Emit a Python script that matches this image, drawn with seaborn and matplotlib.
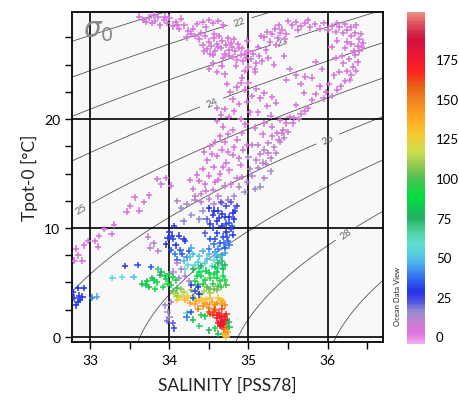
import numpy as np
import pandas as pd
import matplotlib
matplotlib.use("Agg")
import matplotlib.pyplot as plt
import matplotlib.colors as mcolors
import seaborn as sns

# ---------------- data (salinity, potential temperature, depth) ----------------
surface_pts = [
    (33.62,29.4,4),(33.68,29.1,3),(33.74,29.3,5),(33.78,28.8,3),(33.82,29.0,4),(33.86,29.4,6),(33.88,28.6,3),
    (33.93,29.1,4),(33.97,28.8,5),(34.0,29.3,3),(34.04,28.5,4),(34.08,28.9,6),(34.12,28.3,3),(34.15,29.2,4),
    (34.19,28.6,5),(34.24,28.1,4),(34.28,27.8,3),(34.22,27.5,6),
    (34.35,28.7,4),(34.42,28.9,3),(34.5,29.1,5),(34.55,28.8,4),(34.62,29.0,3),(34.68,28.6,4),(34.46,28.4,6),
    (34.38,27.3,4),(34.42,26.8,5),(34.45,27.6,3),(34.48,26.4,6),(34.5,27.1,4),(34.53,26.7,5),(34.56,27.4,3),
    (34.58,26.2,4),(34.6,26.9,5),(34.63,27.6,4),(34.65,26.5,6),(34.67,27.2,3),(34.7,26.0,5),(34.72,26.8,4),
    (34.74,27.4,5),(34.76,26.3,3),(34.78,27.0,4),(34.55,25.9,6),
    (34.8,25.7,1),(34.83,26.2,2),(34.86,25.4,1),(34.88,26.5,2),(34.9,25.9,1),(34.93,25.3,2),(34.95,26.0,1),(34.84,24.9,3),
    (34.5,24.6,5),(34.55,25.1,4),(34.6,24.3,6),(34.66,24.9,5),(34.7,24.1,4),
    (35.0,26.2,4),(35.03,25.5,5),(35.06,26.0,3),(35.1,25.1,5),(35.13,25.8,4),(35.17,25.3,6),
    (35.2,27.5,4),(35.24,28.0,5),(35.27,27.1,3),(35.3,27.8,4),(35.34,28.3,5),(35.37,27.4,3),(35.4,27.9,1),
    (35.43,28.2,2),(35.46,27.3,1),(35.48,27.8,2),(35.35,26.8,4),
    (35.55,28.6,4),(35.6,28.9,5),(35.66,28.5,3),(35.72,28.8,4),(35.78,28.4,5),(35.84,28.7,4),(35.9,28.3,3),(35.62,28.2,6),
    (35.25,25.6,5),(35.32,25.0,4),(35.45,25.8,6),(35.52,24.6,5),(35.48,23.6,4),(35.6,24.0,6),(35.66,23.2,5),
    (36.0,28.2,4),(36.05,28.5,5),(36.1,28.0,3),(36.15,28.4,4),(36.2,27.9,5),(36.25,28.2,4),(36.3,27.6,3),
    (36.35,27.9,5),(36.4,27.3,4),(36.38,26.7,5),(36.33,26.2,4),(36.3,26.9,6),(36.25,27.1,4),(36.22,26.5,5),
    (36.18,25.8,3),(36.27,25.5,4),(36.35,25.9,5),(36.4,26.2,4),(36.32,24.8,5),(36.25,24.4,4),(36.2,25.1,6),
    (36.15,24.3,5),(36.1,25.6,4),(36.05,26.6,5),(36.12,27.2,4),(36.08,24.0,5),(36.02,23.2,4),(36.17,23.0,6),
    (36.28,23.6,5),(35.98,22.5,4),(36.38,25.2,5),(36.43,26.6,4),
    (33.7,28.9,5),(33.8,29.5,4),(33.95,29.4,3),(34.1,28.6,5),(34.3,28.3,4),(34.33,27.6,6),(34.4,27.9,4),
    (34.44,26.2,5),(34.52,26.0,4),(34.57,27.8,3),(34.62,26.6,6),(34.68,25.6,5),(34.75,25.8,4),(34.79,26.6,2),
    (34.82,27.3,5),(34.87,26.9,3),(34.92,26.5,1),(34.97,25.6,2),(35.0,24.8,4),(35.08,24.6,5),(35.12,26.6,4),
    (35.16,27.6,5),(35.22,26.3,4),(35.38,28.6,5),(35.5,29.0,4),(35.75,29.1,5),(35.95,28.8,4),(36.12,28.8,5),
    (36.22,28.7,4),(36.3,28.4,5),(36.36,28.6,4),(36.42,27.8,5),(36.45,27.0,4),(36.36,24.4,5),(36.3,24.0,4),
    (36.22,23.5,5),(36.12,22.7,4),(36.05,22.1,5),(35.93,24.6,5),(35.85,25.2,4),(35.8,23.8,6),(35.72,23.9,4),
    (34.98,27.2,4),(34.95,24.4,3),(34.9,23.3,5),
]

thermocline_pts = [
    (34.73,23.2,4),(34.77,22.5,5),(34.8,21.8,3),(34.85,22.9,4),(34.88,21.4,5),(34.92,23.8,4),(34.96,22.7,5),
    (35.0,23.3,3),(35.04,22.1,4),(35.08,24.3,5),(34.98,21.6,6),
    (34.6,21.0,5),(34.65,20.4,4),(34.7,20.9,6),(34.75,20.2,5),(34.82,20.7,4),
    (35.1,22.8,5),(35.15,21.9,4),(35.2,22.4,6),(35.24,21.2,5),(35.3,22.0,4),(35.12,20.6,5),(35.28,20.3,6),(35.35,21.5,5),
    (35.9,23.0,4),(35.85,22.3,5),(35.8,21.7,4),(35.75,21.0,5),(35.7,22.4,6),(35.66,20.5,5),(35.6,21.3,4),
    (35.58,20.1,5),(35.95,21.9,6),
    (35.52,20.2,6),(35.48,19.6,5),(35.44,19.0,7),(35.4,19.9,6),(35.36,18.7,5),
    (35.3,18.4,8),(35.25,17.8,9),(35.2,17.2,10),(35.15,16.8,9),(35.1,16.2,11),(35.32,17.4,8),(35.4,17.9,7),
    (35.45,18.3,6),(35.35,16.9,9),(35.28,16.4,10),(35.05,17.6,8),(35.0,16.5,10),(35.22,15.9,11),(35.5,18.8,7),
    (35.12,15.5,12),(35.05,14.8,13),(34.98,14.2,14),(35.2,14.6,12),(35.15,13.8,14),(34.95,13.3,15),
    (35.08,13.6,14),(35.28,15.2,12),
    (34.68,19.3,3),(34.74,18.6,4),(34.8,19.0,2),(34.86,18.1,3),(34.92,18.7,4),(34.98,17.6,3),(34.7,17.9,5),(34.82,17.4,4),
    (34.44,17.0,3),(34.48,16.2,4),(34.52,17.5,2),(34.56,15.6,3),(34.6,16.6,4),(34.64,15.0,3),(34.66,17.2,2),
    (34.72,16.0,4),(34.76,15.3,3),(34.8,16.7,5),(34.85,14.6,4),(34.5,14.8,5),(34.58,14.2,4),(34.42,15.4,6),(34.9,15.8,5),
    (34.26,14.4,5),(34.3,13.6,6),(34.35,14.9,4),(34.4,13.1,7),(34.45,14.0,5),(34.5,12.7,8),(34.55,13.5,6),
    (34.62,12.9,9),(34.7,13.9,10),(34.74,12.6,12),
    (33.85,14.5,4),(33.9,14.0,5),(33.96,14.6,3),(34.02,13.9,4),
    (33.5,12.0,4),(33.56,12.8,5),(33.62,11.6,3),(33.68,12.4,4),(33.74,13.0,5),(33.46,11.5,4),
    (34.6,19.8,4),(34.64,18.4,3),(34.58,17.9,4),(34.54,16.8,3),(34.62,14.4,5),(34.68,15.6,4),(34.74,17.0,3),
    (34.78,14.0,6),(34.88,16.4,4),(34.93,17.2,5),(34.46,13.4,6),(34.38,14.3,5),(34.33,12.9,8),(34.4,12.4,10),
    (34.56,12.2,12),(34.66,12.3,14),(34.82,12.9,13),(34.88,13.8,12),(34.92,14.7,11),(35.02,15.4,11),
    (35.18,16.0,10),(35.25,16.9,9),(35.38,18.1,7),(35.42,18.7,6),(35.56,19.6,6),(35.64,20.0,5),(35.72,20.7,5),
    (35.18,18.6,8),(35.12,17.6,9),(35.08,19.2,6),(35.2,19.6,5),(35.3,19.3,6),(34.96,19.5,4),(35.02,20.6,5),
    (34.9,20.0,4),
]

shelf_pts = [
    (33.18,9.9,4),(33.27,9.45,5),(33.11,9.27,3),(33.3,10.3,4),(33.06,8.8,5),(33.1,8.3,4),(32.97,8.8,3),
    (32.92,8.4,5),(32.82,8.1,4),(32.85,7.5,5),(32.8,7.0,4),(32.9,7.0,6),
    (33.73,9.2,10),(33.8,8.6,11),(33.86,7.9,12),(33.76,8.2,9),
]

intermediate_pts = [
    (34.5,11.8,28),(34.55,11.2,30),(34.6,10.6,27),(34.62,11.6,32),(34.66,10.2,29),(34.7,11.0,31),(34.72,9.6,28),
    (34.75,10.5,33),(34.78,9.9,30),(34.8,11.4,27),(34.68,9.2,32),(34.64,8.6,35),(34.7,8.2,34),(34.6,9.5,31),
    (34.55,10.0,29),(34.82,10.8,28),(34.74,8.8,36),(34.58,7.8,38),(34.66,7.5,40),(34.52,9.0,33),(34.85,12.0,25),
    (34.78,12.4,22),
    (34.52,10.4,30),(34.57,11.6,28),(34.63,10.9,31),(34.67,11.3,30),(34.71,10.4,32),(34.76,11.0,29),(34.79,10.2,33),
    (34.73,9.2,34),(34.69,8.6,37),(34.62,8.1,40),(34.56,8.5,38),(34.6,7.3,42),(34.7,7.7,44),(34.76,8.4,38),
    (34.8,9.4,30),(34.83,11.6,26),(34.58,9.0,34),(34.5,8.1,40),(34.45,9.5,22),(34.47,10.8,20),(34.72,12.0,24),
    (34.65,12.4,22),
    (34.0,9.6,30),(34.04,9.0,32),(34.08,8.4,28),(34.02,8.0,34),(34.12,9.3,30),(34.16,7.6,33),(34.1,7.1,36),
    (34.2,8.8,31),(34.25,7.9,35),(33.96,8.5,29),(34.06,10.2,26),
    (34.03,9.3,31),(34.07,7.6,38),(34.14,8.0,35),(34.18,9.0,30),(34.22,7.3,40),(33.98,9.1,30),
    (34.1,12.5,12),(34.15,11.8,14),(34.22,12.2,13),(34.28,11.2,15),(34.32,12.6,12),(34.38,10.8,16),(34.18,10.6,17),
    (34.42,11.6,14),
    (34.18,7.0,50),(34.24,6.6,55),(34.3,7.6,48),(34.36,6.9,52),(34.42,7.9,46),(34.48,7.2,50),(34.54,6.5,56),
    (34.58,7.7,48),(34.28,8.2,45),(34.4,6.3,58),
    (34.2,6.2,58),(34.33,6.6,55),(34.45,6.8,54),(34.5,7.6,47),(34.38,7.4,50),(34.26,7.3,52),(34.56,7.1,56),
    (34.62,6.3,62),(34.66,6.6,64),
    (32.85,4.5,28),(32.92,4.5,29),(32.8,3.6,30),(32.84,3.2,31),(32.87,3.4,30),(32.82,2.9,29),(32.9,3.7,28),
    (32.78,4.1,27),(32.86,3.8,30),(33.02,3.6,40),(33.08,3.7,45),
    (33.28,5.4,55),(33.4,5.5,58),
    (33.44,6.5,30),(33.6,6.6,32),(33.77,6.4,34),(33.55,5.5,48),
]

deep_pts = [
    (33.66,4.9,80),(33.72,5.1,85),(33.78,5.4,82),(33.84,5.0,88),(33.88,5.7,78),(33.92,4.6,90),(33.96,5.3,86),
    (33.82,4.4,92),(33.9,6.0,75),(34.0,5.8,80),(33.74,4.6,84),(33.86,6.2,70),
    (33.7,4.8,82),(33.8,5.2,84),(33.94,5.6,82),(33.98,4.9,90),(34.04,5.5,88),(34.08,4.0,105),(34.1,3.8,108),
    (34.3,6.2,80),(34.35,5.6,85),(34.4,6.5,78),(34.45,5.2,90),(34.5,5.9,85),(34.55,4.9,95),(34.58,6.4,82),
    (34.48,4.6,100),(34.42,4.9,95),(34.36,4.8,92),(34.6,5.4,90),(34.62,6.8,75),(34.65,4.6,98),(34.64,7.4,68),
    (34.68,6.2,80),(34.7,5.2,92),
    (34.4,5.6,88),(34.46,6.1,84),(34.52,5.4,92),(34.56,5.8,88),(34.6,6.0,86),(34.64,5.1,94),(34.68,5.6,88),
    (34.7,6.6,78),(34.66,7.0,72),(34.72,4.8,96),(34.32,5.1,92),(34.38,6.0,86),(34.5,4.4,102),(34.56,4.4,104),
    (34.62,4.7,100),
    (34.02,4.8,95),(34.05,4.2,100),(34.08,5.2,92),(34.1,4.5,98),
    (34.06,3.9,115),(34.12,3.6,120),(34.18,4.1,112),(34.22,3.8,118),(34.28,4.3,110),(34.32,3.5,122),(34.15,4.4,108),
    (34.38,4.0,115),(34.44,4.2,112),(34.52,4.0,110),(34.6,4.3,105),
    (34.1,3.4,125),(34.16,3.7,122),(34.24,3.6,125),(34.3,3.8,120),(34.34,3.3,132),(34.4,3.6,125),(34.44,3.1,138),
    (34.48,3.0,142),(34.52,3.6,130),(34.56,2.6,150),(34.6,3.1,142),(34.64,3.4,132),(34.68,3.3,135),(34.7,2.9,148),
    (34.2,3.4,135),(34.26,3.1,140),(34.32,3.0,138),(34.38,3.3,132),(34.42,2.8,145),(34.46,3.5,130),(34.5,2.7,148),
    (34.54,3.2,140),(34.58,2.9,145),(34.62,3.6,128),(34.66,3.0,142),(34.36,2.6,150),
    (34.5,2.3,160),(34.55,2.0,165),(34.58,2.5,158),(34.6,1.7,170),(34.63,2.2,168),(34.65,1.4,175),(34.67,1.9,172),
    (34.69,1.1,178),(34.7,1.6,175),(34.62,1.3,180),(34.66,2.6,160),(34.72,2.1,165),(34.68,0.9,170),
    (34.52,2.1,162),(34.56,2.3,162),(34.6,2.0,168),(34.64,1.8,172),(34.66,1.2,178),(34.68,1.5,176),(34.7,1.9,170),
    (34.71,1.3,176),(34.73,1.6,172),(34.69,0.7,165),(34.64,1.0,178),
    (34.7,0.4,140),(34.72,0.7,145),(34.71,0.1,135),(34.73,1.0,150),(34.71,0.3,138),(34.74,0.5,142),(34.72,0.0,130),
    (34.3,1.6,80),(34.38,1.0,70),(34.45,1.9,85),(34.5,0.6,75),(34.58,0.8,90),(34.62,0.3,82),(34.75,1.4,80),
    (34.76,0.9,78),(34.22,2.2,60),(34.4,2.0,95),
    (34.28,4.8,30),(34.32,4.2,32),(34.36,4.6,28),(34.3,3.6,35),(34.38,3.9,30),(34.22,1.8,38),(34.27,2.3,33),
    (33.95,2.9,15),(33.98,2.3,13),(34.0,1.8,14),(34.04,1.3,20),(34.06,0.8,24),(34.02,3.2,12),(33.97,1.5,18),
    (34.1,6.8,10),(34.15,6.2,12),(34.2,5.6,11),(34.25,5.1,13),(34.12,5.4,12),(34.05,6.0,10),
]

x_ticks = [33, 34, 35, 36]
y_ticks = [0, 10, 20]
cbar_ticks = [0, 25, 50, 75, 100, 125, 150, 175]
sigma_levels = list(range(18, 31))
sigma_label_levels = [22, 23, 24, 25, 26, 28]
sigma_label_pos = [(34.89, 28.9), (35.43, 27.2), (34.54, 21.4), (32.9, 11.6), (36.0, 18.2), (36.24, 9.45)]

# ---------------- build frame ----------------
rows = []
for grp in (surface_pts, thermocline_pts, shelf_pts, intermediate_pts, deep_pts):
    rows.extend(grp)
df = pd.DataFrame(rows, columns=["sal", "temp", "depth"])

# ODV-like colour map
stops = [(-5, "#f0a8f0"), (2, "#de72de"), (8, "#c87ed2"), (15, "#9a8cd0"), (22, "#4a50e8"),
         (28, "#2830e8"), (37, "#3070f0"), (47, "#50b8f0"), (58, "#60e0d0"), (66, "#50d0a0"),
         (75, "#20b060"), (88, "#00e040"), (100, "#50c050"), (108, "#90c850"), (116, "#c8e050"),
         (128, "#f8c830"), (140, "#ffa020"), (150, "#f08020"), (158, "#e86018"), (168, "#ff2020"),
         (176, "#f01830"), (188, "#d01040"), (198, "#e05060"), (205, "#f09080")]
vmin, vmax = -5, 205
cmap = mcolors.LinearSegmentedColormap.from_list(
    "odv", [((v - vmin) / (vmax - vmin), c) for v, c in stops])
norm = mcolors.Normalize(vmin=vmin, vmax=vmax)

plt.rcParams["font.family"] = ["Lato", "DejaVu Sans"]

fig = plt.figure(figsize=(4.59, 4.02), dpi=100)
ax = fig.add_axes([72/459, 1-343/402, 311/459, 330/402])
ax.set_facecolor("#f8f8f8")

# sigma-0 contours (UNESCO EOS-80 at p=0)
S = np.linspace(32.5, 37.0, 300)
T = np.linspace(-1.0, 31.0, 300)
SS, TT = np.meshgrid(S, T)
rw = (999.842594 + 6.793952e-2*TT - 9.095290e-3*TT**2 + 1.001685e-4*TT**3
      - 1.120083e-6*TT**4 + 6.536332e-9*TT**5)
rho = (rw + SS*(0.824493 - 4.0899e-3*TT + 7.6438e-5*TT**2 - 8.2467e-7*TT**3 + 5.3875e-9*TT**4)
       + SS**1.5*(-5.72466e-3 + 1.0227e-4*TT - 1.6546e-6*TT**2) + 4.8314e-4*SS**2)
sig = rho - 1000.0
plain_levels = [l for l in sigma_levels if l not in sigma_label_levels]
ax.contour(SS, TT, sig, levels=plain_levels, colors="#555555", linewidths=0.6, zorder=1)
cs_lab = ax.contour(SS, TT, sig, levels=sigma_label_levels, colors="#555555", linewidths=0.6, zorder=1)
ax.clabel(cs_lab, fmt="%d", fontsize=7.5, colors="#666666", manual=sigma_label_pos)

for v in x_ticks:
    ax.axvline(v, color="black", lw=1.2, zorder=2)
for v in y_ticks:
    ax.axhline(v, color="black", lw=1.2, zorder=2)

sns.scatterplot(data=df, x="sal", y="temp", hue="depth", palette=cmap, hue_norm=norm,
                marker="+", s=22, linewidth=1.1, legend=False, ax=ax, zorder=3)

ax.set_xlim(32.77, 36.70)
ax.set_ylim(-0.46, 29.82)
ax.set_xticks(x_ticks)
ax.set_yticks(y_ticks)
ax.set_xticks([33.5, 34.5, 35.5, 36.5], minor=True)
ax.set_yticks([2.5, 5, 7.5, 12.5, 15, 17.5, 22.5, 25, 27.5], minor=True)
ax.tick_params(which="both", direction="out", length=5, width=1, labelsize=10, colors="black")
ax.tick_params(axis="x", pad=4)
for sp in ax.spines.values():
    sp.set_linewidth(1.3)
    sp.set_color("black")

ax.set_xlabel("SALINITY [PSS78]", fontsize=12.5, color="#222")
ax.set_ylabel("Tpot-0 [°C]", fontsize=12.5, color="#222")
ax.xaxis.set_label_coords(0.5, -0.105)
ax.yaxis.set_label_coords(-0.11, 0.5)

ax.text(0.035, 0.985, r"$\sigma_0$", transform=ax.transAxes, fontsize=20, color="#888888",
        va="top", ha="left", zorder=4)

# colour bar
cax = fig.add_axes([407/459, 1-345/402, 18/459, 332/402])
sm = plt.cm.ScalarMappable(norm=norm, cmap=cmap)
cb = fig.colorbar(sm, cax=cax, ticks=cbar_ticks)
cb.outline.set_visible(False)
cax.tick_params(length=0, labelsize=9.5, pad=8)

fig.text(397/459, 1-297/402, "Ocean Data View", rotation=90, fontsize=5.5,
         ha="center", va="center", color="#222")

fig.savefig("out.png", dpi=100)
